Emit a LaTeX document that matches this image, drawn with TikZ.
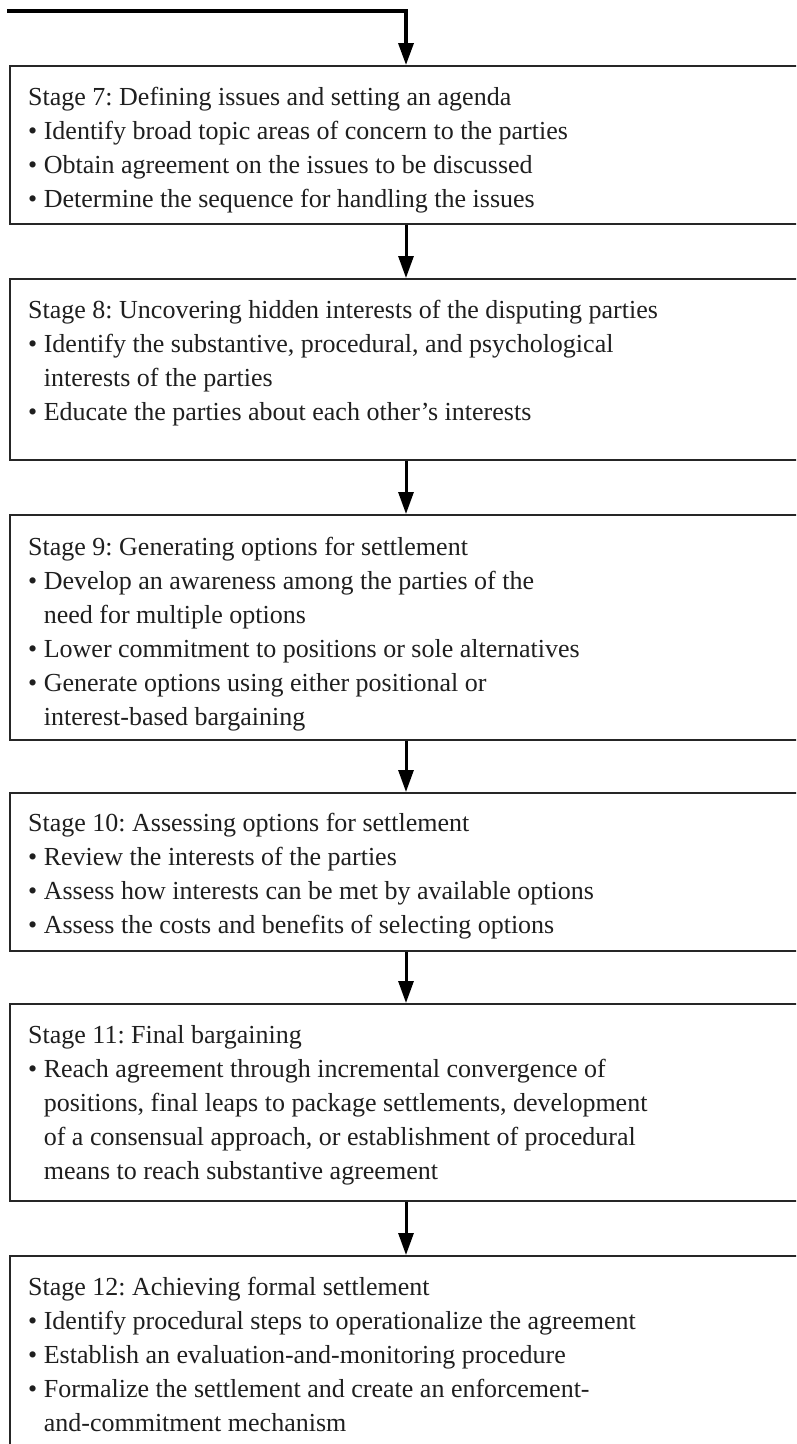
\documentclass[tikz,border=0pt]{standalone}
\usepackage{fontspec}
\setmainfont{Liberation Serif}
\usetikzlibrary{arrows.meta}
\frenchspacing
\newcommand\stagebullet{\textbullet\ }
\newcommand\stageindent{\hphantom{\textbullet\ }}
\begin{document}
\begin{tikzpicture}[x=1pt,y=-1pt,
  stagebox/.style={draw=black!85, line width=2pt, rectangle, anchor=north west,
    inner sep=0pt, minimum width=900pt},
  % multi-line texts are placed by the baseline of their last line
  stagetext/.style={anchor=base west, align=left, inner sep=0pt,
    font=\fontsize{26}{34}\selectfont\frenchspacing, text=black!88},
  flow/.style={line width=3pt, -{Triangle[width=15pt,length=22pt]}},
]
\useasboundingbox (0,0) rectangle (796,1444);
\clip (0,0) rectangle (796,1444);
\fill[white] (0,0) rectangle (796,1444);

% stage frames (open on the right, beyond the page edge)
\node[stagebox, minimum height=158pt] (b7)  at (9,65)   {};
\node[stagebox, minimum height=181pt] (b8)  at (9,278)  {};
\node[stagebox, minimum height=225pt] (b9)  at (9,514)  {};
\node[stagebox, minimum height=158pt] (b10) at (9,792)  {};
\node[stagebox, minimum height=197pt] (b11) at (9,1003) {};
\node[stagebox, minimum height=300pt] (b12) at (9,1255) {};

% stage texts
\node[stagetext] (t7) at (28,207) {Stage 7: Defining issues and setting an agenda\\
  \stagebullet Identify broad topic areas of concern to the parties\\
  \stagebullet Obtain agreement on the issues to be discussed\\
  \stagebullet Determine the sequence for handling the issues};
\node[stagetext] (t8) at (28,420) {Stage 8: Uncovering hidden interests of the disputing parties\\
  \stagebullet Identify the substantive, procedural, and psychological\\
  \stageindent interests of the parties\\
  \stagebullet Educate the parties about each other’s interests};
\node[stagetext] (t9) at (28,725) {Stage 9: Generating options for settlement\\
  \stagebullet Develop an awareness among the parties of the\\
  \stageindent need for multiple options\\
  \stagebullet Lower commitment to positions or sole alternatives\\
  \stagebullet Generate options using either positional or\\
  \stageindent interest-based bargaining};
\node[stagetext] (t10) at (28,933) {Stage 10: Assessing options for settlement\\
  \stagebullet Review the interests of the parties\\
  \stagebullet Assess how interests can be met by available options\\
  \stagebullet Assess the costs and benefits of selecting options};
\node[stagetext] (t11) at (28,1179) {Stage 11: Final bargaining\\
  \stagebullet Reach agreement through incremental convergence of\\
  \stageindent positions, final leaps to package settlements, development\\
  \stageindent of a consensual approach, or establishment of procedural\\
  \stageindent means to reach substantive agreement};
\node[stagetext] (t12) at (28,1431) {Stage 12: Achieving formal settlement\\
  \stagebullet Identify procedural steps to operationalize the agreement\\
  \stagebullet Establish an evaluation-and-monitoring procedure\\
  \stagebullet Formalize the settlement and create an enforcement-\\
  \stageindent and-commitment mechanism};

% connectors
\coordinate (ax) at (406,0);
\coordinate (feed) at (7,11);
\draw[flow, line width=3.5pt] (feed) -| (b7.north -| ax);
\draw[flow] (b7.south -| ax) -- (b8.north -| ax);
\draw[flow] (b8.south -| ax) -- (b9.north -| ax);
\draw[flow] (b9.south -| ax) -- (b10.north -| ax);
\draw[flow] (b10.south -| ax) -- (b11.north -| ax);
\draw[flow] (b11.south -| ax) -- (b12.north -| ax);
\end{tikzpicture}
\end{document}
